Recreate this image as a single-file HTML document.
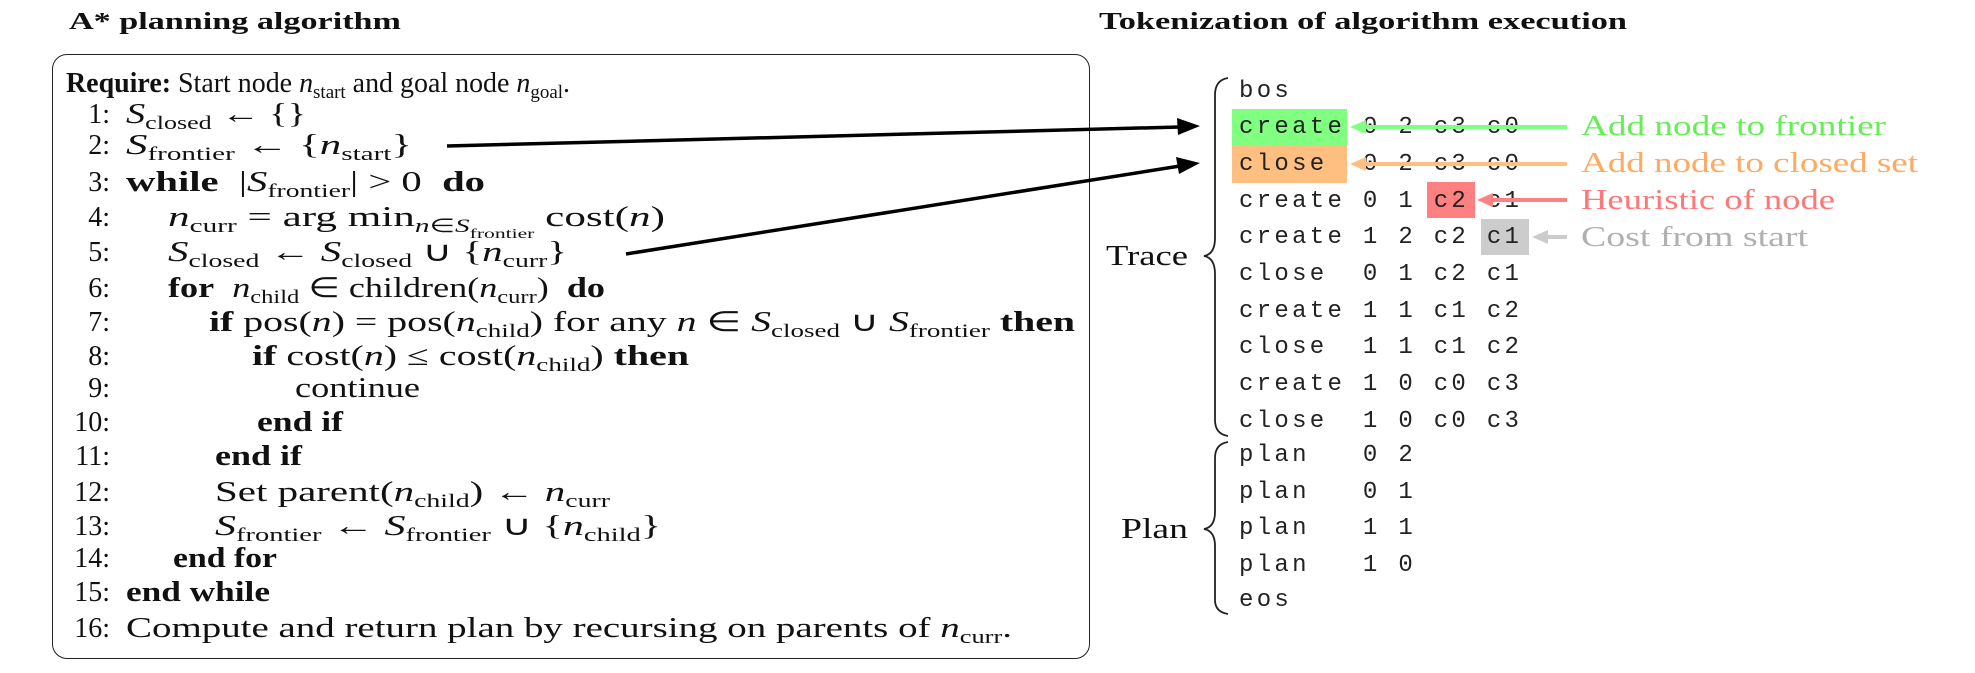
<!DOCTYPE html>
<html><head><meta charset="utf-8"><style>
body{margin:0;width:1975px;height:673px;background:#fff;position:relative;overflow:hidden;font-family:"Liberation Serif",serif;color:#111}
.t{position:absolute;white-space:nowrap}
.h{font-weight:bold;font-size:24px}
.L{position:absolute;height:30px;line-height:30px;font-size:28px;white-space:nowrap;left:0}
.n{position:absolute;width:62px;text-align:right;left:48px}
.c{position:absolute}
.s{display:inline-block;transform-origin:0 50%;white-space:nowrap}
sub{font-size:19px;vertical-align:-6px;line-height:0}
i{font-style:italic}
b{font-weight:bold}
.m{position:absolute;left:1239px;font-family:"Liberation Mono",monospace;font-size:24px;letter-spacing:3.3px;white-space:pre;height:30px;line-height:30px;color:#222}
.lab{position:absolute;left:1581px;font-size:28px;white-space:nowrap;height:30px;line-height:30px}
.box{position:absolute}
</style></head><body>
<div class="t h" style="left:69px;top:9px"><span class="s" style="--w:332px">A* planning algorithm</span></div>
<div class="t h" style="left:1099px;top:9px"><span class="s" style="--w:528px">Tokenization of algorithm execution</span></div>
<div style="position:absolute;left:52px;top:54px;width:1036px;height:603px;border:1.5px solid #222;border-radius:15px"></div>

<div class="L" style="top:69px;left:66px"><span class="s" style="--w:504px"><b>Require:</b> Start node <i>n</i><sub>start</sub> and goal node <i>n</i><sub>goal</sub>.</span></div>
<div class="L" style="top:100px"><span class="n">1:</span><span class="c" style="left:126px"><span class="s" style="--w:180px"><i>S</i><sub>closed</sub> ← {}</span></span></div>
<div class="L" style="top:131px"><span class="n">2:</span><span class="c" style="left:126px"><span class="s" style="--w:286px"><i>S</i><sub>frontier</sub> ← {<i>n</i><sub>start</sub>}</span></span></div>
<div class="L" style="top:168px"><span class="n">3:</span><span class="c" style="left:126px"><span class="s" style="--w:359px"><b>while</b> &nbsp;|<i>S</i><sub>frontier</sub>| &gt; 0 &nbsp;<b>do</b></span></span></div>
<div class="L" style="top:203px"><span class="n">4:</span><span class="c" style="left:168px"><span class="s" style="--w:497px"><i>n</i><sub>curr</sub> = arg min<sub><i>n</i>∈<i>S</i><sub style="font-size:14px">frontier</sub></sub> cost(<i>n</i>)</span></span></div>
<div class="L" style="top:238px"><span class="n">5:</span><span class="c" style="left:168px"><span class="s" style="--w:399px"><i>S</i><sub>closed</sub> ← <i>S</i><sub>closed</sub> ∪ {<i>n</i><sub>curr</sub>}</span></span></div>
<div class="L" style="top:274px"><span class="n">6:</span><span class="c" style="left:168px"><span class="s" style="--w:437px"><b>for</b> &nbsp;<i>n</i><sub>child</sub> ∈ children(<i>n</i><sub>curr</sub>) &nbsp;<b>do</b></span></span></div>
<div class="L" style="top:308px"><span class="n">7:</span><span class="c" style="left:209px"><span class="s" style="--w:866px"><b>if</b> pos(<i>n</i>) = pos(<i>n</i><sub>child</sub>) for any <i>n</i> ∈ <i>S</i><sub>closed</sub> ∪ <i>S</i><sub>frontier</sub> <b>then</b></span></span></div>
<div class="L" style="top:342px"><span class="n">8:</span><span class="c" style="left:252px"><span class="s" style="--w:437px"><b>if</b> cost(<i>n</i>) ≤ cost(<i>n</i><sub>child</sub>) <b>then</b></span></span></div>
<div class="L" style="top:374px"><span class="n">9:</span><span class="c" style="left:295px"><span class="s" style="--w:125px">continue</span></span></div>
<div class="L" style="top:408px"><span class="n">10:</span><span class="c" style="left:257px"><span class="s" style="--w:86px"><b>end if</b></span></span></div>
<div class="L" style="top:442px"><span class="n">11:</span><span class="c" style="left:215px"><span class="s" style="--w:87px"><b>end if</b></span></span></div>
<div class="L" style="top:478px"><span class="n">12:</span><span class="c" style="left:215px"><span class="s" style="--w:395px">Set parent(<i>n</i><sub>child</sub>) ← <i>n</i><sub>curr</sub></span></span></div>
<div class="L" style="top:512px"><span class="n">13:</span><span class="c" style="left:215px"><span class="s" style="--w:446px"><i>S</i><sub>frontier</sub> ← <i>S</i><sub>frontier</sub> ∪ {<i>n</i><sub>child</sub>}</span></span></div>
<div class="L" style="top:544px"><span class="n">14:</span><span class="c" style="left:173px"><span class="s" style="--w:104px"><b>end for</b></span></span></div>
<div class="L" style="top:578px"><span class="n">15:</span><span class="c" style="left:126px"><span class="s" style="--w:144px"><b>end while</b></span></span></div>
<div class="L" style="top:614px"><span class="n">16:</span><span class="c" style="left:126px"><span class="s" style="--w:886px">Compute and return plan by recursing on parents of <i>n</i><sub>curr</sub>.</span></span></div>

<div class="box" style="left:1232px;top:109px;width:115px;height:37px;background:#80ff80"></div>
<div class="box" style="left:1232px;top:146px;width:115px;height:37px;background:#ffbf80"></div>
<div class="box" style="left:1427px;top:182px;width:48px;height:36px;background:#ff8080"></div>
<div class="box" style="left:1481px;top:219px;width:48px;height:36px;background:#cccccc"></div>

<div class="m" style="top:77px">bos</div>
<div class="m" style="top:113px">create 0 2 c3 c0</div>
<div class="m" style="top:150px">close  0 2 c3 c0</div>
<div class="m" style="top:187px">create 0 1 c2 c1</div>
<div class="m" style="top:223px">create 1 2 c2 c1</div>
<div class="m" style="top:260px">close  0 1 c2 c1</div>
<div class="m" style="top:297px">create 1 1 c1 c2</div>
<div class="m" style="top:333px">close  1 1 c1 c2</div>
<div class="m" style="top:370px">create 1 0 c0 c3</div>
<div class="m" style="top:407px">close  1 0 c0 c3</div>
<div class="m" style="top:441px">plan   0 2</div>
<div class="m" style="top:478px">plan   0 1</div>
<div class="m" style="top:514px">plan   1 1</div>
<div class="m" style="top:551px">plan   1 0</div>
<div class="m" style="top:586px">eos</div>

<div class="lab" style="top:112px;color:#66ee55"><span class="s" style="--w:305px">Add node to frontier</span></div>
<div class="lab" style="top:149px;color:#ffaa60"><span class="s" style="--w:337px">Add node to closed set</span></div>
<div class="lab" style="top:186px;color:#ff7878"><span class="s" style="--w:254px">Heuristic of node</span></div>
<div class="lab" style="top:223px;color:#b0b0b0"><span class="s" style="--w:227px">Cost from start</span></div>

<div class="t" style="left:1106px;top:241px;font-size:28px"><span class="s" style="--w:82px">Trace</span></div>
<div class="t" style="left:1121px;top:514px;font-size:28px"><span class="s" style="--w:67px">Plan</span></div>

<svg width="1975" height="673" style="position:absolute;left:0;top:0">
<g stroke-width="4">
<line x1="1567" y1="127" x2="1360" y2="127" stroke="#80ff80"/>
<line x1="1567" y1="164" x2="1360" y2="164" stroke="#ffbf80"/>
<line x1="1567" y1="200" x2="1487" y2="200" stroke="#ff8080"/>
<line x1="1567" y1="237" x2="1542" y2="237" stroke="#cccccc"/>
</g>
<polygon points="1350,127 1366,120 1366,134" fill="#80ff80"/>
<polygon points="1350,164 1366,157 1366,171" fill="#ffbf80"/>
<polygon points="1477,200 1493,193 1493,207" fill="#ff8080"/>
<polygon points="1532,237 1548,230 1548,244" fill="#cccccc"/>
<line x1="447" y1="146" x2="1180" y2="127" stroke="#000" stroke-width="3.5"/>
<polygon points="1200,126 1177,118 1178,135" fill="#000"/>
<line x1="626" y1="254" x2="1180" y2="166" stroke="#000" stroke-width="3.5"/>
<polygon points="1200,163 1176,157 1179,174" fill="#000"/>
<g fill="none" stroke="#222" stroke-width="1.8">
<path d="M1228,78 Q1215,80 1215,95 L1215,238 Q1215,254 1204,256 Q1215,258 1215,274 L1215,420 Q1215,434 1228,436"/>
<path d="M1228,442 Q1215,444 1215,458 L1215,512 Q1215,527 1204,529 Q1215,531 1215,546 L1215,600 Q1215,612 1228,614"/>
</g>
</svg>
<script>
document.querySelectorAll('.s').forEach(function(e){
  var w=parseFloat(e.style.getPropertyValue('--w'));
  var a=e.getBoundingClientRect().width;
  if(w&&a){e.style.transform='scaleX('+(w/a)+')';}
});
</script>
</body></html>
